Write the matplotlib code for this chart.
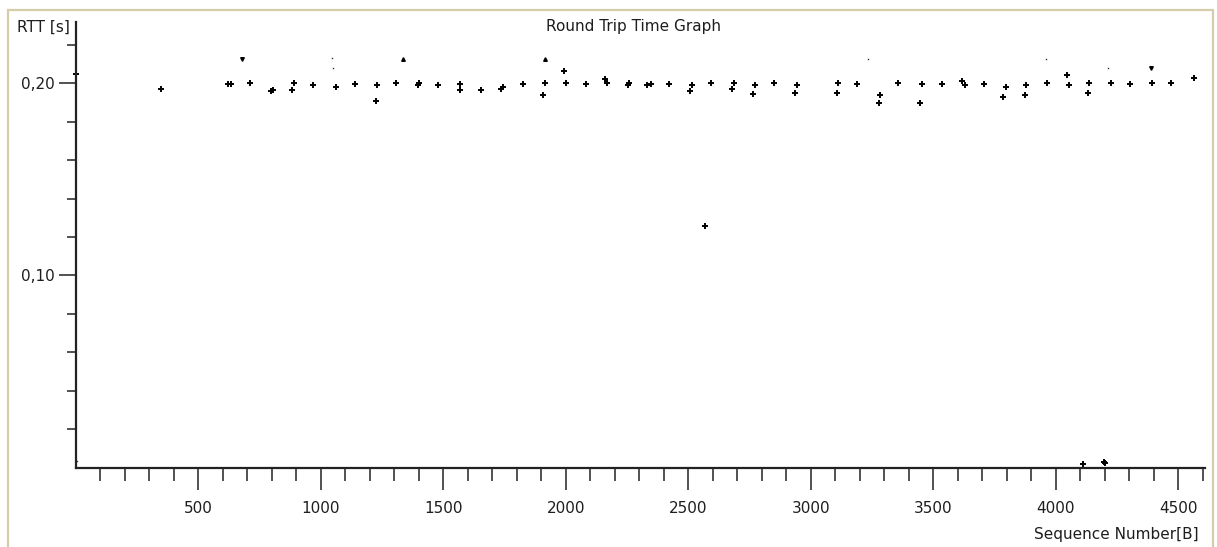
import matplotlib.pyplot as plt
from matplotlib.patches import Rectangle
from matplotlib.ticker import FixedLocator, FuncFormatter

# --- data (sequence number [B], RTT [s]) ---
seq = [2, 348, 620, 634, 709, 798, 803, 881, 892, 968, 1061, 1138,
       1226, 1230, 1307, 1396, 1401, 1477, 1566, 1570, 1653, 1734, 1742,
       1824, 1907, 1916, 1993, 2000, 2083, 2162, 2170, 2252, 2257, 2332,
       2346, 2422, 2509, 2516, 2569, 2591, 2679, 2686, 2763, 2772, 2849,
       2937, 2943, 3107, 3113, 3189, 3278, 3283, 3358, 3448, 3454, 3535,
       3617, 3628, 3706, 3787, 3797, 3875, 3880, 3963, 4045, 4056, 4112,
       4132, 4137, 4196, 4203, 4226, 4302, 4395, 4471, 4564]
rtt = [0.2048, 0.1972, 0.1996, 0.1996, 0.2003, 0.1958, 0.1965, 0.1965,
       0.2003, 0.1990, 0.1980, 0.1996, 0.1905, 0.1990, 0.2003, 0.1990,
       0.2003, 0.1990, 0.1965, 0.1996, 0.1965, 0.1972, 0.1980, 0.1996,
       0.1938, 0.2003, 0.2064, 0.2003, 0.1996, 0.2019, 0.2003, 0.1990,
       0.2003, 0.1988, 0.1996, 0.1996, 0.1958, 0.1990, 0.1256, 0.2003,
       0.1972, 0.2003, 0.1943, 0.1990, 0.2003, 0.1950, 0.1990, 0.1950,
       0.2003, 0.1996, 0.1898, 0.1936, 0.2003, 0.1898, 0.1996, 0.1996,
       0.2012, 0.1988, 0.1996, 0.1927, 0.1980, 0.1936, 0.1990, 0.2003,
       0.2041, 0.1988, 0.0019, 0.1950, 0.2003, 0.0028, 0.0024, 0.2003,
       0.1996, 0.2003, 0.2003, 0.2026]

# half-drawn markers near the top
seq_up = [1336, 1916]
rtt_up = [0.2126, 0.2126]
seq_down = [676, 4390]
rtt_down = [0.2128, 0.2078]

# single-pixel dots
seq_dot = [3, 1046, 1050, 3233, 3962, 4215]
rtt_dot = [0.0036, 0.2133, 0.2078, 0.2125, 0.2125, 0.2078]

x_major = [500, 1000, 1500, 2000, 2500, 3000, 3500, 4000, 4500]
y_major = [0.10, 0.20]

W, H = 1217, 547
txt_color = "#1e1e1e"
plt.rcParams["font.family"] = ["DejaVu Sans"]

fig = plt.figure(figsize=(W / 100, H / 100), dpi=100)
ax = fig.add_axes([76 / W, 1 - 467.7 / H, (1205 - 76) / W, (467.7 - 22) / H])

# --- points ---
ax.plot(seq, rtt, linestyle="none", marker="+", markersize=4.2,
        markeredgewidth=1.4, color="black", clip_on=False)
ax.plot(seq_up, rtt_up, linestyle="none", marker="^", markersize=2.6,
        color="black", clip_on=False)
ax.plot(seq_down, rtt_down, linestyle="none", marker="v", markersize=2.6,
        color="black", clip_on=False)
ax.plot(seq_dot, rtt_dot, linestyle="none", marker="s", markersize=1.0,
        markeredgewidth=0, color="#333333", clip_on=False)

# --- axes ---
ax.set_xlim(0, 4610)
ax.set_ylim(0, 0.2318)
for side in ("top", "right"):
    ax.spines[side].set_visible(False)
for side in ("left", "bottom"):
    ax.spines[side].set_linewidth(1.6)
    ax.spines[side].set_color("#222222")

ax.xaxis.set_major_locator(FixedLocator(x_major))
ax.xaxis.set_minor_locator(FixedLocator([v for v in range(100, 4601, 100) if v % 500]))
ax.yaxis.set_major_locator(FixedLocator(y_major))
ax.yaxis.set_minor_locator(FixedLocator([0.02, 0.04, 0.06, 0.08, 0.12, 0.14, 0.16, 0.18, 0.22]))
ax.yaxis.set_major_formatter(FuncFormatter(lambda v, p: f"{v:.2f}".replace(".", ",")))

ax.tick_params(axis="x", which="major", length=16, width=1.1, color="#222222",
               labelsize=11, labelcolor=txt_color, pad=8)
ax.tick_params(axis="x", which="minor", length=9, width=1.1, color="#222222")
ax.tick_params(axis="y", which="major", length=12, width=1.1, color="#222222",
               labelsize=11, labelcolor=txt_color, pad=3)
ax.tick_params(axis="y", which="minor", length=6.5, width=1.1, color="#222222")

# --- texts ---
fig.text(633 / W, 1 - 27 / H, "Round Trip Time Graph", ha="center", va="center",
         fontsize=11, color=txt_color)
fig.text(17 / W, 1 - 27 / H, "RTT [s]", ha="left", va="center",
         fontsize=11, color=txt_color)
fig.text(1199 / W, 1 - 535 / H, "Sequence Number[B]", ha="right", va="center",
         fontsize=11, color=txt_color)

# --- window frame ---
fig.patches.append(Rectangle((8 / W, -0.05), (1213 - 8) / W, 1.05 - 10 / H,
                             transform=fig.transFigure, fill=False,
                             edgecolor="#d5ccaa", linewidth=1.6))

fig.savefig("out.png", dpi=100)
plt.close(fig)
